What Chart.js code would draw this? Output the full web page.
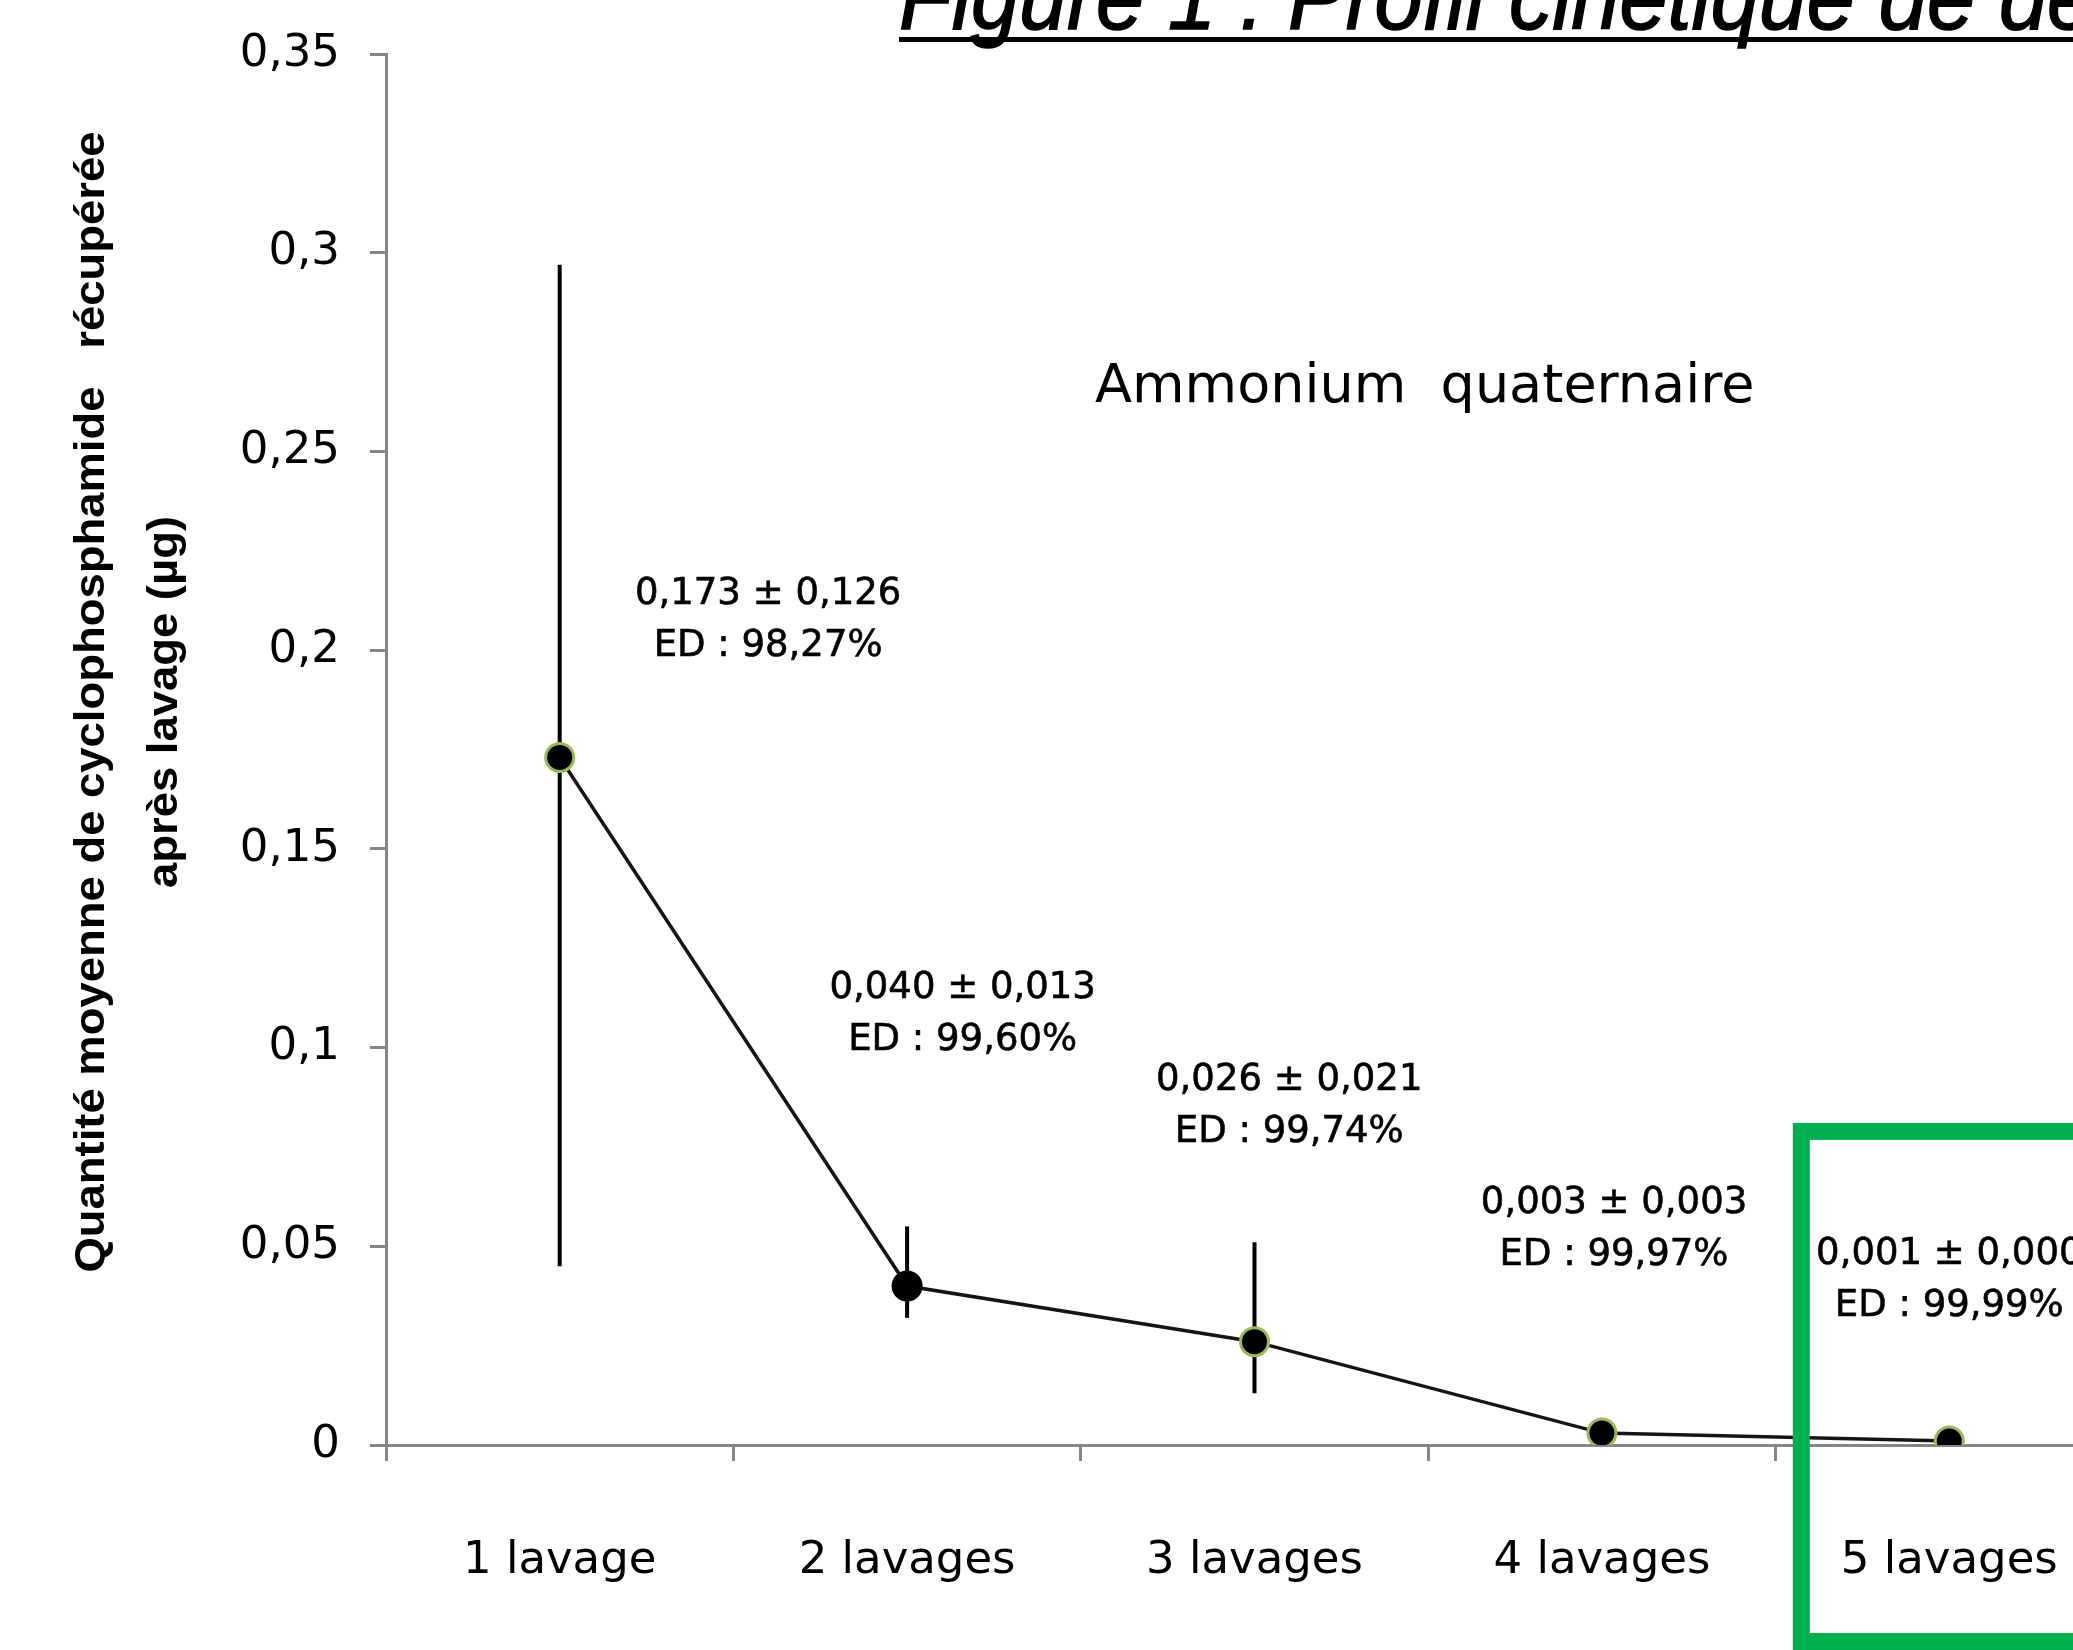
<!DOCTYPE html>
<html><head><meta charset="utf-8">
<script src="https://cdn.jsdelivr.net/npm/chart.js@4.4.0/dist/chart.umd.min.js"></script>
<style>
html,body{margin:0;padding:0;overflow:hidden;background:#fff;width:2073px;height:1650px}
#wrap{position:absolute;left:0;top:0;width:2140px;height:1650px}
</style></head><body><div id="wrap"><canvas id="c" width="2140" height="1650"></canvas></div>
<script>
// ---- data ----
const categories = ['1 lavage', '2 lavages', '3 lavages', '4 lavages', '5 lavages'];
const meanValues = [0.173, 0.040, 0.026, 0.003, 0.001];
const errLow = [0.045, 0.032, 0.013, 0.003, 0.001];
const errHigh = [0.297, 0.055, 0.051, 0.003, 0.001];
const yTickLabels = ['0', '0,05', '0,1', '0,15', '0,2', '0,25', '0,3', '0,35'];
const labelLine1 = ['0,173 ± 0,126', '0,040 ± 0,013', '0,026 ± 0,021', '0,003 ± 0,003', '0,001 ± 0,000'];
const labelLine2 = ['ED : 98,27%', 'ED : 99,60%', 'ED : 99,74%', 'ED : 99,97%', 'ED : 99,99%'];
const seriesName = 'Ammonium  quaternaire';
const chartTitle = 'Figure 1 : Profil cinétique de décontamination';
const yTitleLines = ['Quantité moyenne de cyclophosphamide   récupérée', 'après lavage (µg)'];

// ---- layout (positions of annotations, in axis units) ----
const labelDx = [0.60, 0.16, 0.10, 0.035, 0.0];
const labelY = [0.214, 0.1148, 0.0918, 0.0609, 0.0479];
const labelGap = 52;
const seriesLabelPos = {x: 2.49, y: 0.266};
const boxPos = {x: 3.574, y: 0.0789};

const FONT = '"DejaVu Sans"';

const errorBars = {
  id: 'errorBars',
  beforeDatasetsDraw(chart) {
    const {ctx, scales: {x, y}} = chart;
    ctx.save();
    ctx.strokeStyle = '#000';
    ctx.lineWidth = 4;
    meanValues.forEach((v, i) => {
      if (errHigh[i] === errLow[i]) return;
      const px = x.getPixelForValue(i);
      ctx.beginPath();
      ctx.moveTo(px, y.getPixelForValue(errHigh[i]));
      ctx.lineTo(px, y.getPixelForValue(errLow[i]));
      ctx.stroke();
    });
    ctx.restore();
  }
};

const annotations = {
  id: 'annotations',
  afterDraw(chart) {
    const {ctx, scales: {x, y}} = chart;
    ctx.save();
    // value labels
    ctx.fillStyle = '#000';
    ctx.strokeStyle = '#000';
    ctx.lineWidth = 0.6;
    ctx.textAlign = 'center';
    ctx.textBaseline = 'middle';
    ctx.font = '37px ' + FONT;
    meanValues.forEach((v, i) => {
      const px = x.getPixelForValue(i + labelDx[i]);
      const py = y.getPixelForValue(labelY[i]);
      ctx.fillText(labelLine1[i], px, py);
      ctx.strokeText(labelLine1[i], px, py);
      ctx.fillText(labelLine2[i], px, py + labelGap);
      ctx.strokeText(labelLine2[i], px, py + labelGap);
    });
    // series name
    ctx.font = '54px ' + FONT;
    ctx.fillText(seriesName, x.getPixelForValue(seriesLabelPos.x), y.getPixelForValue(seriesLabelPos.y));

    // y axis title (rotated, two lines)
    ctx.font = 'bold 42px "Liberation Sans"';
    const w1 = ctx.measureText(yTitleLines[0]).width;
    const sx = 1141 / w1;
    const titleCenterY = 702;
    [[92, yTitleLines[0]], [165, yTitleLines[1]]].forEach(([cx, t]) => {
      ctx.save();
      ctx.translate(cx, titleCenterY);
      ctx.rotate(-Math.PI / 2);
      ctx.scale(sx, 1);
      ctx.fillText(t, 0, 0);
      ctx.restore();
    });

    // figure title (cut off at top)
    ctx.font = 'italic 92px "Liberation Sans"';
    ctx.textAlign = 'left';
    ctx.textBaseline = 'alphabetic';
    const pre = ctx.measureText('Figure 1 : Profil cinétique de ').width;
    const tsx = 1100 / pre;
    ctx.save();
    ctx.translate(899, 29);
    ctx.scale(tsx, 1);
    ctx.lineWidth = 1.5;
    ctx.fillText(chartTitle, 0, 0);
    ctx.strokeText(chartTitle, 0, 0);
    const full = ctx.measureText(chartTitle).width;
    ctx.fillRect(0, 8, full, 5);
    ctx.restore();

    // green highlight box
    ctx.strokeStyle = '#00B050';
    ctx.lineWidth = 17;
    const bx = x.getPixelForValue(boxPos.x);
    const by = y.getPixelForValue(boxPos.y);
    ctx.strokeRect(bx, by, 2300 - bx, 1641.5 - by);
    ctx.restore();
  }
};

new Chart(document.getElementById('c'), {
  type: 'line',
  data: {
    labels: categories,
    datasets: [{
      label: seriesName,
      data: meanValues,
      borderColor: '#151515',
      borderWidth: 3.5,
      tension: 0,
      pointRadius: 14,
      pointBorderWidth: 3,
      pointBackgroundColor: '#000',
      pointBorderColor: ['#9bbb59', '#000', '#9bbb59', '#9bbb59', '#9bbb59']
    }]
  },
  options: {
    responsive: false,
    animation: false,
    devicePixelRatio: 1,
    layout: {padding: {top: 54, right: 15, left: 0, bottom: 0}},
    plugins: {legend: {display: false}, tooltip: {enabled: false}, title: {display: false}},
    scales: {
      x: {
        type: 'category',
        offset: true,
        grid: {offset: true, drawOnChartArea: false, drawTicks: true, tickLength: 16, color: '#868686', lineWidth: 3},
        border: {color: '#868686', width: 3},
        ticks: {font: {size: 45, family: FONT}, color: '#000', padding: 73, maxRotation: 0, autoSkip: false},
        afterFit: s => { s.height = 205; s.paddingLeft = 0; s.paddingRight = 0; }
      },
      y: {
        min: 0, max: 0.35,
        ticks: {stepSize: 0.05, callback: (v, i) => yTickLabels[i], font: {size: 45, family: FONT}, color: '#000', padding: 30},
        grid: {drawOnChartArea: false, tickLength: 16, color: '#868686', lineWidth: 3},
        border: {color: '#868686', width: 3},
        afterFit: s => { s.width = 386; s.paddingTop = 0; s.paddingBottom = 0; }
      }
    }
  },
  plugins: [errorBars, annotations]
});
</script></body></html>
